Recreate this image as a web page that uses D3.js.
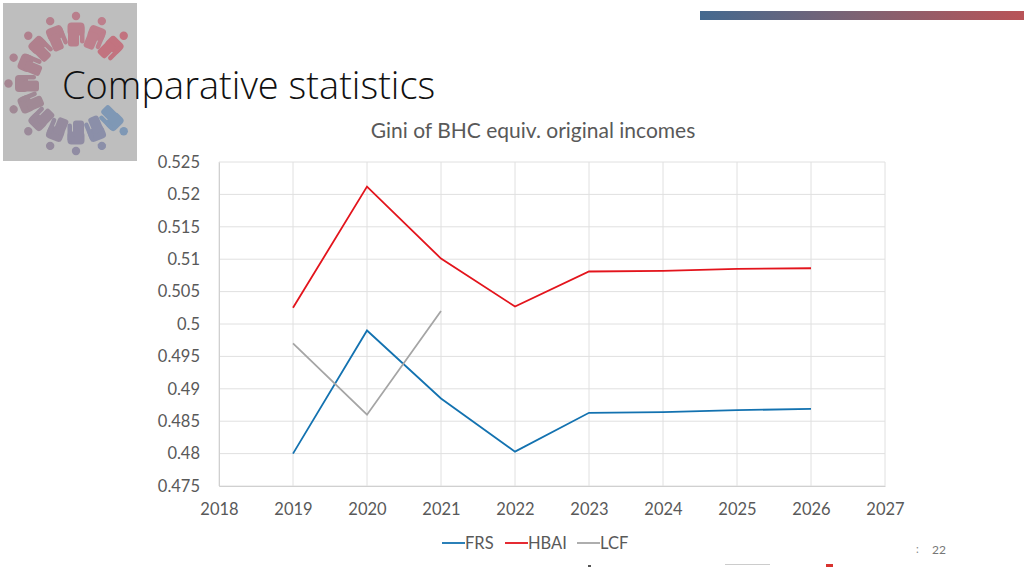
<!DOCTYPE html>
<html>
<head>
<meta charset="utf-8">
<script src="https://cdn.jsdelivr.net/npm/d3@7"></script>
<style>
  html, body { margin: 0; padding: 0; background: #fff; }
  svg { display: block; }
  text { font-family: Lato, sans-serif; }
</style>
</head>
<body>
<svg id="chart" width="1024" height="576"></svg>
<script>
const years = [2019, 2020, 2021, 2022, 2023, 2024, 2025, 2026];
const frs = [0.48, 0.499, 0.4885, 0.4803, 0.4863, 0.4864, 0.4867, 0.4869];
const hbai = [0.5025, 0.5212, 0.5101, 0.5027, 0.5081, 0.5082, 0.5085, 0.5086];
const lcf = [0.497, 0.486, 0.502];
const xTicks = [2018, 2019, 2020, 2021, 2022, 2023, 2024, 2025, 2026, 2027];
const yTicks = [0.475, 0.48, 0.485, 0.49, 0.495, 0.5, 0.505, 0.51, 0.515, 0.52, 0.525];

const svg = d3.select("#chart");
const margin = {left: 219, right: 139, top: 162, bottom: 90};
const width = 1024 - margin.left - margin.right;
const height = 576 - margin.top - margin.bottom;

const x = d3.scaleLinear().domain([2018, 2027]).range([0, width]);
const y = d3.scaleLinear().domain([0.475, 0.525]).range([height, 0]);

// header bar with the blue to red gradient
const grad = svg.append("defs").append("linearGradient").attr("id", "bar");
grad.append("stop").attr("offset", "0%").attr("stop-color", "#44698f");
grad.append("stop").attr("offset", "50%").attr("stop-color", "#7f6272");
grad.append("stop").attr("offset", "100%").attr("stop-color", "#b95357");
svg.append("rect").attr("x", 700).attr("y", 11).attr("width", 324).attr("height", 9).attr("fill", "url(#bar)");

// logo, ring of little people
const logo = svg.append("g");
logo.append("rect").attr("x", 3).attr("y", 3).attr("width", 134).attr("height", 158).attr("fill", "#bebebe");
// order runs from upper right round the top and left to lower right
const people = [45, 22.5, 0, -22.5, -45, -67.5, -90, -112.5, -135, -157.5, 180, 157.5, 135];
const ringColor = d3.scaleLinear()
  .domain([0, 1, 4, 7, 10, 11, 12])
  .range(["#c2737f", "#bd7f8c", "#b0808d", "#a08995", "#908ca3", "#8b8fa9", "#7f98b5"]);
people.forEach((a, i) => {
  const col = ringColor(i);
  const p = logo.append("g").attr("transform", `translate(76,83.5) rotate(${a})`);
  p.append("circle").attr("cx", 0).attr("cy", -67.5).attr("r", 4.2).attr("fill", col);
  p.append("rect").attr("x", -8.5).attr("y", -61).attr("width", 17).attr("height", 13).attr("rx", 4).attr("fill", col);
  p.append("rect").attr("x", -8).attr("y", -54).attr("width", 11).attr("height", 17).attr("rx", 3).attr("fill", col);
  p.append("rect").attr("x", 4).attr("y", -58).attr("width", 4.5).attr("height", 18).attr("rx", 2.2).attr("fill", col);
});

// title
svg.append("text").attr("x", 62).attr("y", 99)
  .attr("font-size", 38).attr("font-weight", 300).attr("fill", "#111")
  .style("font-family", "'Open Sans'")
  .text("Comparative statistics");
svg.append("text").attr("x", 533).attr("y", 138).attr("text-anchor", "middle")
  .attr("font-size", 21).attr("fill", "#595959")
  .text("Gini of BHC equiv. original incomes");

const g = svg.append("g").attr("transform", `translate(${margin.left},${margin.top})`);

// grid
g.append("g").selectAll("line").data(yTicks).join("line")
  .attr("x1", 0).attr("x2", width)
  .attr("y1", d => y(d)).attr("y2", d => y(d))
  .attr("stroke", "#e0e0e0").attr("stroke-width", 1);
g.append("g").selectAll("line").data(xTicks).join("line")
  .attr("x1", d => x(d)).attr("x2", d => x(d))
  .attr("y1", 0).attr("y2", height)
  .attr("stroke", "#e0e0e0").attr("stroke-width", 1);

// axes
const xAxis = g.append("g").attr("transform", `translate(0,${height})`)
  .call(d3.axisBottom(x).tickValues(xTicks).tickFormat(d3.format("d")).tickSize(0).tickPadding(17));
const yAxis = g.append("g")
  .call(d3.axisLeft(y).tickValues(yTicks).tickFormat(d => String(d)).tickSize(0).tickPadding(19));
xAxis.select(".domain").attr("stroke", "#d0d0d0");
yAxis.select(".domain").attr("stroke", "#d0d0d0");
xAxis.selectAll("text").attr("font-size", 16.5).attr("fill", "#595959").style("font-family", "Lato");
yAxis.selectAll("text").attr("font-size", 16.5).attr("fill", "#595959").style("font-family", "Lato");

// lines
const line = d3.line().x(d => x(d[0])).y(d => y(d[1]));
const series = [
  {name: "FRS", values: frs, color: "#1372b0"},
  {name: "HBAI", values: hbai, color: "#e3141c"},
  {name: "LCF", values: lcf, color: "#a5a5a5"}
];
series.forEach(s => {
  g.append("path")
    .datum(s.values.map((v, i) => [years[i], v]))
    .attr("d", line).attr("fill", "none")
    .attr("stroke", s.color).attr("stroke-width", 1.8);
});

// legend
const legendX = [442, 505, 577];
const legend = svg.append("g").selectAll("g").data(series).join("g")
  .attr("transform", (d, i) => `translate(${legendX[i]},543)`);
legend.append("line").attr("x1", 0).attr("x2", 23)
  .attr("stroke", d => d.color).attr("stroke-width", 1.8);
legend.append("text").attr("x", 23).attr("y", 5.5)
  .attr("font-size", 16.5).attr("fill", "#595959").text(d => d.name);

// page number and the leftover bits at the bottom of the slide
svg.append("text").attr("x", 916).attr("y", 553).attr("font-size", 11).attr("fill", "#888").text(":");
svg.append("text").attr("x", 932).attr("y", 554).attr("font-size", 12).attr("fill", "#777").text("22");
svg.append("rect").attr("x", 826).attr("y", 564).attr("width", 7).attr("height", 3).attr("fill", "#d8332f");
svg.append("rect").attr("x", 725).attr("y", 564).attr("width", 45).attr("height", 1).attr("fill", "#ccc");
svg.append("rect").attr("x", 588).attr("y", 565).attr("width", 3).attr("height", 2).attr("fill", "#555");
</script>
</body>
</html>
